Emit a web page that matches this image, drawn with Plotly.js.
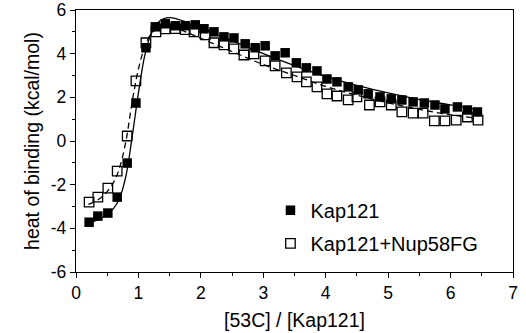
<!DOCTYPE html>
<html><head><meta charset="utf-8">
<script src="https://cdn.plot.ly/plotly-3.0.1.min.js"></script>
<style>html,body{margin:0;padding:0;background:#fff}#c{width:526px;height:333px}</style>
</head><body><div id="c"></div>
<script>
const kapX = [0.21,0.35,0.51,0.66,0.82,0.96,1.12,1.27,1.43,1.59,1.75,1.91,2.05,2.21,2.37,2.53,2.71,2.87,3.03,3.19,3.35,3.53,3.69,3.86,4.02,4.18,4.36,4.52,4.68,4.87,5.05,5.22,5.40,5.58,5.75,5.91,6.11,6.27,6.43];
const kapY = [-3.72,-3.44,-3.30,-2.57,-1.01,1.74,4.27,5.23,5.37,5.28,5.28,5.32,5.14,5.00,4.77,4.72,4.45,4.27,4.36,3.90,4.04,3.58,3.35,3.21,2.84,2.71,2.48,2.34,2.16,2.02,1.93,1.88,1.79,1.74,1.65,1.47,1.56,1.42,1.33];
const nupX = [0.21,0.35,0.51,0.66,0.82,0.96,1.12,1.28,1.43,1.59,1.75,1.89,2.07,2.21,2.37,2.53,2.69,2.85,3.03,3.19,3.37,3.54,3.69,3.86,4.02,4.18,4.36,4.50,4.70,4.87,5.05,5.22,5.40,5.56,5.74,5.91,6.09,6.27,6.44];
const nupY = [-2.80,-2.57,-2.16,-1.38,0.23,2.75,4.50,5.00,5.14,5.15,5.10,5.00,4.86,4.50,4.40,4.22,3.94,3.99,3.67,3.44,3.12,2.94,2.71,2.48,2.16,2.06,1.88,2.02,1.65,1.79,1.65,1.33,1.28,1.28,0.92,0.92,0.96,1.10,0.96];
const fitKapX = [0.2,0.4,0.6,0.7,0.8,0.9,1.0,1.1,1.2,1.3,1.4,1.5,1.6,1.8,2.0,2.5,3.0,3.5,4.0,4.5,5.0,5.5,6.0,6.4];
const fitKapY = [-3.75,-3.55,-3.1,-2.6,-1.6,0.2,2.2,3.9,4.9,5.4,5.6,5.65,5.6,5.4,5.15,4.6,4.0,3.45,2.95,2.55,2.2,1.9,1.65,1.45];
const fitNupX = [0.2,0.4,0.6,0.7,0.8,0.9,1.0,1.1,1.2,1.3,1.4,1.6,1.8,2.0,2.5,3.0,3.5,4.0,4.5,5.0,5.5,6.0,6.4];
const fitNupY = [-2.9,-2.6,-1.9,-1.2,0.0,1.8,3.3,4.3,4.9,5.15,5.2,5.15,4.95,4.7,4.1,3.5,3.0,2.5,2.1,1.75,1.45,1.2,1.05];
const names = ["Kap121","Kap121+Nup58FG"];
const yTickVals = [-6,-4,-2,0,2,4,6];
const yTickText = ["-6","-4","-2","0","2","4","6"];
const xTickVals = [0,1,2,3,4,5,6,7];
const xTickText = ["0","1","2","3","4","5","6","7"];

const traces = [
  {x: fitKapX, y: fitKapY, mode:'lines', line:{color:'#000', width:1.3, shape:'spline'}, showlegend:false, hoverinfo:'skip'},
  {x: fitNupX, y: fitNupY, mode:'lines', line:{color:'#000', width:1.3, dash:'6px,4px', shape:'spline'}, showlegend:false, hoverinfo:'skip'},
  {x: kapX, y: kapY, mode:'markers', name:names[0], legendgroup:'a',
   marker:{symbol:'square', size:9.5, color:'#000', line:{color:'#000', width:0}}},
  {x: nupX, y: nupY, mode:'markers', name:names[1], legendgroup:'b',
   marker:{symbol:'square-open', size:9.5, color:'#000', line:{color:'#000', width:1.3}}}
];
const fam = 'Liberation Sans, Arial, sans-serif';
const tickFont = {family:fam, size:17.5, color:'#000'};
const titleFont = {family:fam, size:19.5, color:'#000'};
const layout = {
  width:526, height:333,
  margin:{l:76, r:13, t:10, b:61},
  paper_bgcolor:'#fff', plot_bgcolor:'#fff',
  font: tickFont,
  showlegend:true,
  legend:{x:0.445, y:0.31, xanchor:'left', yanchor:'top', font:{family:fam, size:20, color:'#000'},
          tracegroupgap:4, traceorder:'grouped', itemwidth:30, bgcolor:'rgba(0,0,0,0)'},
  xaxis:{range:[0,7], tickmode:'array', tickvals:xTickVals, ticktext:xTickText, showgrid:false, zeroline:false,
         showline:true, linecolor:'#000', linewidth:1.2, mirror:true,
         ticks:'outside', ticklen:5, tickcolor:'#000', tickwidth:1,
         minor:{dtick:0.5, tick0:0, ticks:'outside', ticklen:3, tickcolor:'#000', showgrid:false},
         tickfont:tickFont, title:{text:'[53C] / [Kap121]', font:titleFont, standoff:11}},
  yaxis:{range:[-6,6], tickmode:'array', tickvals:yTickVals, ticktext:yTickText, showgrid:false, zeroline:false,
         showline:true, linecolor:'#000', linewidth:1.2, mirror:true,
         ticks:'outside', ticklen:5, tickcolor:'#000', tickwidth:1,
         minor:{dtick:1, tick0:0, ticks:'outside', ticklen:3, tickcolor:'#000', showgrid:false},
         tickfont:tickFont, title:{text:'heat of binding (kcal/mol)', font:titleFont, standoff:6}}
};
Plotly.newPlot('c', traces, layout, {displayModeBar:false, staticPlot:true});
</script></body></html>
